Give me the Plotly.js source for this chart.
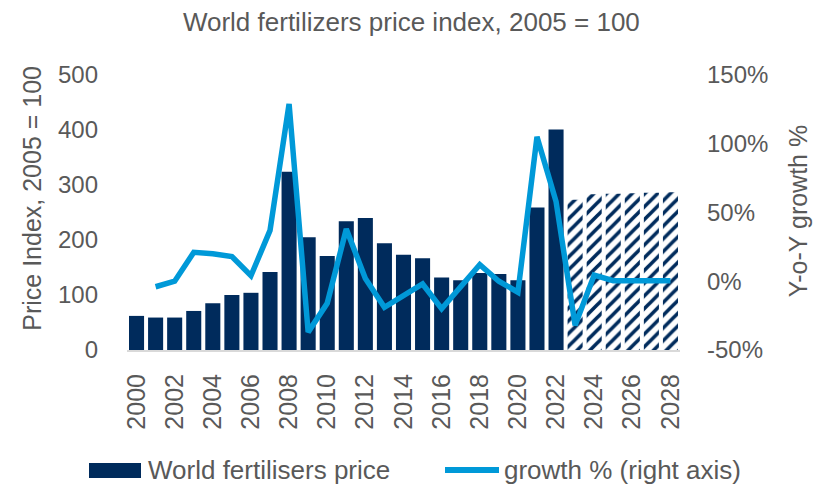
<!DOCTYPE html>
<html>
<head>
<meta charset="utf-8">
<script src="https://cdn.plot.ly/plotly-3.0.1.min.js"></script>
<style>
  html, body { margin: 0; padding: 0; background: #ffffff; }
  #chart { width: 813px; height: 487px; }
</style>
</head>
<body>
<div id="chart"></div>
<script>
// World fertilizer price index (2005 = 100) with year-on-year growth
const years = [2000, 2001, 2002, 2003, 2004, 2005, 2006, 2007, 2008, 2009,
               2010, 2011, 2012, 2013, 2014, 2015, 2016, 2017, 2018, 2019,
               2020, 2021, 2022, 2023, 2024, 2025, 2026, 2027, 2028];
const priceIndex = [62, 59, 59, 71, 85, 100, 104, 142, 324, 205,
                    171, 234, 240, 194, 173, 167, 132, 127, 140, 138,
                    127, 259, 401, 273, 283, 284, 285, 286, 287];
const growthYears = [2001, 2002, 2003, 2004, 2005, 2006, 2007, 2008, 2009,
                     2010, 2011, 2012, 2013, 2014, 2015, 2016, 2017, 2018, 2019,
                     2020, 2021, 2022, 2023, 2024, 2025, 2026, 2027, 2028];
const growthPct = [-4, 0, 21, 20, 18, 4, 37, 129, -37,
                   -16, 38, 2, -19, -10, -2, -20, -4, 12, 0,
                   -8, 105, 58, -32, 4.5, 0.4, 0.4, 0.4, 0.4];
const firstForecastYear = 2023;
const xTickYears = [2000, 2002, 2004, 2006, 2008, 2010, 2012, 2014,
                    2016, 2018, 2020, 2022, 2024, 2026, 2028];
const leftTicks = [0, 100, 200, 300, 400, 500];
const rightTicks = [-50, 0, 50, 100, 150];

const chartTitle = 'World fertilizers price index, 2005 = 100';
const leftAxisTitle = 'Price Index, 2005 = 100';
const rightAxisTitle = 'Y-o-Y growth %';
const barName = 'World fertilisers price';
const lineName = 'growth % (right axis)';

const NAVY = '#002b5c';
const BLUE = '#0099d8';
const GREY_TEXT = '#595959';
const FONT = '"Liberation Sans", Arial, sans-serif';

const barTrace = {
  type: 'bar',
  name: barName,
  x: years,
  y: priceIndex,
  yaxis: 'y',
  marker: {
    color: NAVY,
    line: { width: 0 },
    pattern: {
      shape: years.map(y => (y >= firstForecastYear ? '/' : '')),
      fgcolor: NAVY,
      bgcolor: '#ffffff',
      size: 9,
      solidity: 0.4,
      fillmode: 'replace'
    }
  },
  showlegend: false,
  hoverinfo: 'x+y'
};

const lineTrace = {
  type: 'scatter',
  mode: 'lines',
  name: lineName,
  x: growthYears,
  y: growthPct,
  yaxis: 'y2',
  line: { color: BLUE, width: 5.5 },
  showlegend: false
};

// legend row sits below the rotated year labels (paper coordinates)
const legendY = -(470 - 350) / 275;
const px = v => (v - 127) / 553;

const layout = {
  width: 813,
  height: 487,
  margin: { l: 127, r: 133, t: 75, b: 137 },
  paper_bgcolor: '#ffffff',
  plot_bgcolor: '#ffffff',
  bargap: 0.21,
  font: { family: FONT, color: GREY_TEXT, size: 25 },
  title: {
    text: chartTitle,
    font: { family: FONT, size: 26, color: GREY_TEXT },
    x: 0.506,
    xanchor: 'center',
    y: 1 - 22 / 487,
    yanchor: 'middle'
  },
  xaxis: {
    type: 'linear',
    range: [1999.5, 2028.5],
    tickmode: 'array',
    tickvals: xTickYears,
    ticktext: xTickYears.map(String),
    tickangle: -90,
    tickfont: { family: FONT, size: 25, color: GREY_TEXT },
    ticks: '',
    ticklabelstandoff: 12,
    showgrid: false,
    zeroline: false,
    showline: true,
    linecolor: '#d9d9d9',
    linewidth: 2,
    fixedrange: true
  },
  yaxis: {
    range: [0, 500],
    tickmode: 'array',
    tickvals: leftTicks,
    tickfont: { family: FONT, size: 24, color: GREY_TEXT },
    ticks: '',
    ticklabelstandoff: 28,
    showgrid: false,
    zeroline: false,
    showline: false,
    fixedrange: true
  },
  yaxis2: {
    overlaying: 'y',
    side: 'right',
    range: [-50, 150],
    tickmode: 'array',
    tickvals: rightTicks,
    ticktext: rightTicks.map(v => v + '%'),
    tickfont: { family: FONT, size: 24, color: GREY_TEXT },
    ticks: '',
    ticklabelstandoff: 26,
    showgrid: false,
    zeroline: false,
    showline: false,
    fixedrange: true
  },
  annotations: [
    {
      text: leftAxisTitle, textangle: -90,
      xref: 'paper', yref: 'paper',
      x: px(32), y: 0.55, xanchor: 'center', yanchor: 'middle',
      showarrow: false,
      font: { family: FONT, size: 25, color: GREY_TEXT }
    },
    {
      text: rightAxisTitle, textangle: -90,
      xref: 'paper', yref: 'paper',
      x: px(798), y: 0.505, xanchor: 'center', yanchor: 'middle',
      showarrow: false,
      font: { family: FONT, size: 25, color: GREY_TEXT }
    },
    {
      text: barName,
      xref: 'paper', yref: 'paper',
      x: px(146), y: legendY,
      xanchor: 'left', yanchor: 'middle',
      showarrow: false,
      font: { family: FONT, size: 26, color: GREY_TEXT }
    },
    {
      text: lineName,
      xref: 'paper', yref: 'paper',
      x: px(502), y: legendY,
      xanchor: 'left', yanchor: 'middle',
      showarrow: false,
      font: { family: FONT, size: 26, color: GREY_TEXT }
    }
  ],
  shapes: [
    {
      type: 'rect', xref: 'paper', yref: 'paper',
      x0: px(89), x1: px(141),
      y0: -(463 - 350) / 275, y1: -(478 - 350) / 275,
      fillcolor: NAVY, line: { width: 0 }
    },
    {
      type: 'line', xref: 'paper', yref: 'paper',
      x0: px(445), x1: px(499),
      y0: legendY, y1: legendY,
      line: { color: BLUE, width: 6 }
    }
  ],
  showlegend: false
};

Plotly.newPlot('chart', [barTrace, lineTrace], layout, { displayModeBar: false, staticPlot: true });
</script>
</body>
</html>
